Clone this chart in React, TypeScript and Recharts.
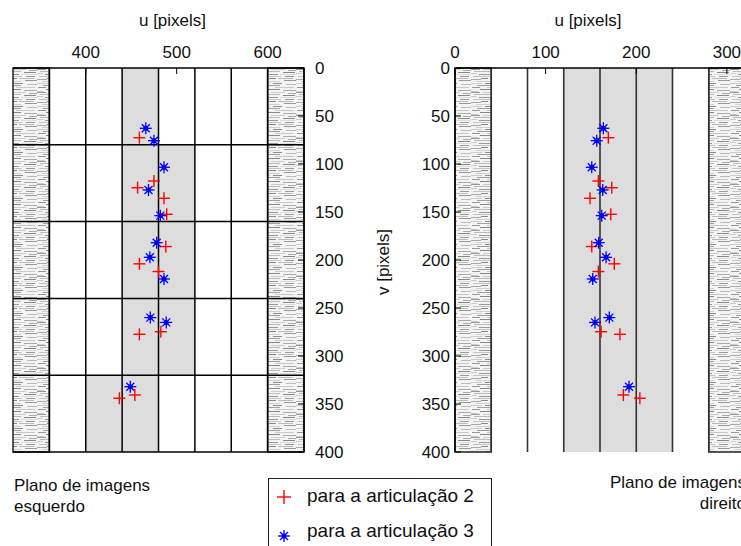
import React from 'react';
import { ScatterChart, Scatter, XAxis, YAxis, ReferenceArea, ReferenceLine } from 'recharts';

const FONT = '"Liberation Sans", Arial, sans-serif';

// v coordinates of the markers (same rows in both image planes)
const vJ2 = [72.6, 117.7, 124.7, 135.7, 152.4, 186, 204, 212, 274.7, 277.4, 340.6, 344];
const vJ3 = [62.8, 75.7, 103.4, 127, 153.8, 182, 197.2, 219.8, 260, 265, 332];

// u coordinates, left image plane
const uLeftJ2 = [459, 475, 457, 486, 489, 488, 459, 480, 482.6, 459, 454, 437];
const uLeftJ3 = [466, 475, 486, 469, 482, 478, 470.5, 486, 471, 488.5, 449];

// u coordinates, right image plane
const uRightJ2 = [169.2, 158.2, 173, 149, 171.9, 150.9, 175.8, 158.2, 161.2, 182, 185.8, 204];
const uRightJ3 = [163.7, 156.4, 150.9, 163, 161.9, 158.6, 166.7, 152, 170.3, 154.5, 192];

const leftTicksU = [400, 500, 600];
const rightTicksU = [0, 100, 200, 300];
const ticksV = [0, 50, 100, 150, 200, 250, 300, 350, 400];

const leftGridU = [360, 400, 440, 480, 520, 560, 600];
const leftGridV = [80, 160, 240, 320];
const rightGridU = [40, 80, 120, 160, 200, 240, 280];

// shaded search windows [u1, u2, v1, v2]
const leftShade = [
  [440, 480, 0, 80],
  [440, 520, 80, 160],
  [440, 520, 160, 240],
  [440, 520, 240, 320],
  [400, 480, 320, 400],
];
const rightShade = [[120, 240, 0, 400]];

// texture streaks for the border strips [x, y, len, colour]
const STREAKS: [number, number, number, string][] = [
  [0, 0, 9, '#999'], [12, 0, 14, '#ccc'], [29, 1, 8, '#aaa'],
  [3, 2, 18, '#bbb'], [24, 3, 12, '#888'], [0, 4, 6, '#ccc'],
  [8, 5, 11, '#999'], [21, 5, 16, '#ddd'], [2, 7, 20, '#c4c4c4'],
  [26, 7, 9, '#9a9a9a'], [10, 9, 7, '#888'], [19, 9, 15, '#bbb'],
  [0, 10, 10, '#aaa'], [5, 12, 16, '#d0d0d0'], [25, 11, 12, '#999'],
  [14, 14, 9, '#8c8c8c'], [0, 14, 11, '#ccc'], [27, 15, 10, '#bbb'],
  [6, 16, 15, '#a0a0a0'], [1, 18, 8, '#999'], [16, 18, 19, '#c8c8c8'],
  [9, 20, 12, '#888'], [24, 21, 13, '#aaa'], [0, 22, 7, '#ccc'],
];

const toPts = (us: number[], vs: number[]) => us.map((u, i) => ({ u, v: vs[i] }));

const Plus = ({ cx, cy, size = 6 }: any) => (
  <g stroke="#ff0000" strokeWidth={1.4}>
    <line x1={cx - size} x2={cx + size} y1={cy} y2={cy} />
    <line x1={cx} x2={cx} y1={cy - size} y2={cy + size} />
  </g>
);

const Star = ({ cx, cy, size = 6 }: any) => (
  <g stroke="#0000ff" strokeWidth={1.3}>
    <line x1={cx - size} x2={cx + size} y1={cy} y2={cy} />
    <line x1={cx} x2={cx} y1={cy - size} y2={cy + size} />
    <line x1={cx - 4} x2={cx + 4} y1={cy - 4} y2={cy + 4} />
    <line x1={cx - 4} x2={cx + 4} y1={cy + 4} y2={cy - 4} />
    <circle cx={cx} cy={cy} r={2.5} fill="#0000ff" stroke="none" />
  </g>
);

const textStyle = { fontSize: 17, fontFamily: FONT, fill: '#111' };

const topTick = (m: number) => (p: any) => (
  <g>
    <line x1={p.x} x2={p.x} y1={p.y + m} y2={p.y + m + 6} stroke="#000" />
    <text x={p.x} y={p.y} textAnchor="middle" {...textStyle}>{p.payload.value}</text>
  </g>
);

const rightTick = (m: number) => (p: any) => (
  <g>
    <line x1={p.x - m} x2={p.x - m - 6} y1={p.y} y2={p.y} stroke="#000" />
    <text x={p.x} y={p.y} dy="0.35em" textAnchor="start" {...textStyle}>{p.payload.value}</text>
  </g>
);

const leftTick = (m: number) => (p: any) => (
  <g>
    <line x1={p.x + m} x2={p.x + m + 6} y1={p.y} y2={p.y} stroke="#000" />
    <text x={p.x} y={p.y} dy="0.35em" textAnchor="end" {...textStyle}>{p.payload.value}</text>
  </g>
);

const uTitle = (dx: number) => (p: any) => {
  const vb = p.viewBox || {};
  return (
    <text x={vb.x + vb.width / 2 + dx} y={26} textAnchor="middle" {...textStyle}>u [pixels]</text>
  );
};

const vTitle = (p: any) => {
  const vb = p.viewBox || {};
  const cx = vb.x + 8;
  const cy = vb.y + vb.height / 2 + 2;
  return (
    <text x={cx} y={cy} transform={`rotate(-90 ${cx} ${cy})`} textAnchor="middle" dominantBaseline="central" {...textStyle}>
      v [pixels]
    </text>
  );
};

const Hatch = ({ id }: { id: string }) => (
  <defs>
    <pattern id={id} width={37} height={23} patternUnits="userSpaceOnUse">
      <rect width={37} height={23} fill="#f4f4f4" />
      {STREAKS.map(([x, y, l, c], i) => (
        <line key={i} x1={x} x2={x + l} y1={y + 0.5} y2={y + 0.5} stroke={c} strokeWidth={1} />
      ))}
    </pattern>
  </defs>
);

function LeftPlane() {
  return (
    <ScatterChart width={360} height={470} margin={{ top: 13, left: 13, right: 0, bottom: 18 }}>
      <Hatch id="hatchL" />
      <XAxis type="number" dataKey="u" orientation="top" domain={[320, 640]} ticks={leftTicksU}
        height={55} tickLine={false} tickSize={0} tickMargin={10} tick={topTick(10)}
        axisLine={{ stroke: '#000', strokeWidth: 1.5 }} allowDataOverflow label={{ content: uTitle(14) }} />
      <YAxis type="number" dataKey="v" orientation="right" domain={[0, 400]} reversed ticks={ticksV}
        width={56} tickLine={false} tickSize={0} tickMargin={11} tick={rightTick(11)}
        axisLine={{ stroke: '#000', strokeWidth: 1.5 }} allowDataOverflow />
      {leftShade.map(([u1, u2, v1, v2], i) => (
        <ReferenceArea key={`s${i}`} x1={u1} x2={u2} y1={v1} y2={v2} fill="#dddddd" fillOpacity={1} stroke="none" />
      ))}
      <ReferenceArea x1={320} x2={360} y1={0} y2={400} fill="url(#hatchL)" fillOpacity={1} stroke="#222" strokeWidth={1.5} />
      <ReferenceArea x1={600} x2={640} y1={0} y2={400} fill="url(#hatchL)" fillOpacity={1} stroke="#222" strokeWidth={1.5} />
      {leftGridU.map((u) => (
        <ReferenceLine key={`gu${u}`} x={u} stroke="#000" strokeWidth={1.5} />
      ))}
      {leftGridV.map((v) => (
        <ReferenceLine key={`gv${v}`} y={v} stroke="#000" strokeWidth={1.5} />
      ))}
      <ReferenceLine y={400} stroke="#000" strokeWidth={1.5} />
      <Scatter data={toPts(uLeftJ2, vJ2)} shape={(p: any) => <Plus cx={p.cx} cy={p.cy} />} isAnimationActive={false} />
      <Scatter data={toPts(uLeftJ3, vJ3)} shape={(p: any) => <Star cx={p.cx} cy={p.cy} />} isAnimationActive={false} />
    </ScatterChart>
  );
}

function RightPlane() {
  return (
    <ScatterChart width={390} height={470} margin={{ top: 13, left: 15, right: 5, bottom: 18 }}>
      <Hatch id="hatchR" />
      <XAxis type="number" dataKey="u" orientation="top" domain={[0, 320]} ticks={rightTicksU}
        height={55} tickLine={false} tickSize={0} tickMargin={10} tick={topTick(10)}
        axisLine={{ stroke: '#000', strokeWidth: 1.5 }} allowDataOverflow label={{ content: uTitle(-12) }} />
      <YAxis type="number" dataKey="v" orientation="left" domain={[0, 400]} reversed ticks={ticksV}
        width={80} tickLine={false} tickSize={0} tickMargin={5} tick={leftTick(5)}
        axisLine={{ stroke: '#000', strokeWidth: 1.5 }} allowDataOverflow label={{ content: vTitle }} />
      {rightShade.map(([u1, u2, v1, v2], i) => (
        <ReferenceArea key={`s${i}`} x1={u1} x2={u2} y1={v1} y2={v2} fill="#dddddd" fillOpacity={1} stroke="none" />
      ))}
      <ReferenceArea x1={0} x2={40} y1={0} y2={400} fill="url(#hatchR)" fillOpacity={1} stroke="#222" strokeWidth={1.5} />
      <ReferenceArea x1={280} x2={320} y1={0} y2={400} fill="url(#hatchR)" fillOpacity={1} stroke="#222" strokeWidth={1.5} />
      {rightGridU.map((u) => (
        <ReferenceLine key={`gu${u}`} x={u} stroke="#333" strokeWidth={1.6} />
      ))}
      <Scatter data={toPts(uRightJ2, vJ2)} shape={(p: any) => <Plus cx={p.cx} cy={p.cy} />} isAnimationActive={false} />
      <Scatter data={toPts(uRightJ3, vJ3)} shape={(p: any) => <Star cx={p.cx} cy={p.cy} />} isAnimationActive={false} />
    </ScatterChart>
  );
}

export default function App() {
  const note = { position: 'absolute' as const, fontFamily: FONT, fontSize: 17, lineHeight: '21px', color: '#111' };
  return (
    <div style={{ position: 'absolute', left: 0, top: 0, width: 741, height: 546, overflow: 'hidden', background: '#fff' }}>
      <div style={{ position: 'absolute', left: 0, top: 0 }}>
        <LeftPlane />
      </div>
      <div style={{ position: 'absolute', left: 360, top: 0 }}>
        <RightPlane />
      </div>
      <div style={{ ...note, left: 14, top: 475 }}>
        Plano de imagens<br />esquerdo
      </div>
      <div style={{ ...note, left: 546, top: 472, width: 200, textAlign: 'right' }}>
        Plano de imagens<br />direito
      </div>
      <div style={{ position: 'absolute', left: 268, top: 478, width: 222, height: 90, border: '1.5px solid #222', fontFamily: FONT, fontSize: 19, color: '#111' }}>
        <svg width={30} height={80} style={{ position: 'absolute', left: 0, top: 0 }}>
          <Plus cx={15} cy={18} size={7} />
          <Star cx={15} cy={57} size={6} />
        </svg>
        <div style={{ position: 'absolute', left: 38, top: 6, lineHeight: '22px', whiteSpace: 'nowrap' }}>para a articulação 2</div>
        <div style={{ position: 'absolute', left: 38, top: 41, lineHeight: '22px', whiteSpace: 'nowrap' }}>para a articulação 3</div>
      </div>
    </div>
  );
}
